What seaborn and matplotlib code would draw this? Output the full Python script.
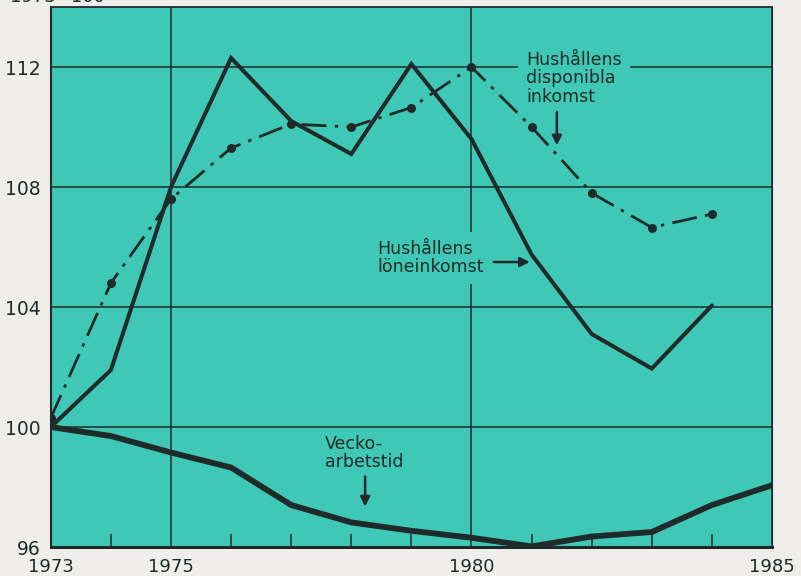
import pandas as pd
import matplotlib.pyplot as plt
import seaborn as sns

# Index 1973 = 100
years = list(range(1973, 1985))
loneinkomst = [100.0, 101.9, 108.0, 112.3, 110.2, 109.1, 112.1, 109.6, 105.75, 103.1, 101.95, 104.05]
disponibla = [100.3, 104.8, 107.6, 109.3, 110.1, 110.0, 110.65, 112.0, 110.0, 107.8, 106.65, 107.1]
vecko_years = list(range(1973, 1986))
veckoarbetstid = [100.0, 99.7, 99.15, 98.65, 97.4, 96.82, 96.54, 96.31, 96.02, 96.35, 96.5, 97.4, 98.06]

x_labels = [1973, 1975, 1980, 1985]
minor_years = [1974, 1976, 1977, 1978, 1979, 1981, 1982, 1983, 1984]
y_ticks = [96, 100, 104, 108, 112]

teal = "#40c8b6"
paper = "#efeeea"
ink = "#1f2b2b"

sns.set_theme(style="ticks")
plt.rcParams['font.family'] = ['DejaVu Sans']

income = pd.DataFrame({'year': years, 'lone': loneinkomst, 'disp': disponibla})
hours = pd.DataFrame({'year': vecko_years, 'vecko': veckoarbetstid})

fig = plt.figure(figsize=(8.01, 5.76), dpi=100, facecolor=paper)
ax = fig.add_axes([0.0634, 0.0503, 0.9004, 0.9375])
ax.set_facecolor(teal)

sns.lineplot(data=hours, x='year', y='vecko', ax=ax, color=ink, lw=4.2,
             solid_joinstyle='round', zorder=3)
sns.lineplot(data=income, x='year', y='lone', ax=ax, color=ink, lw=2.9,
             solid_joinstyle='miter', zorder=3)
sns.lineplot(data=income, x='year', y='disp', ax=ax, color=ink, lw=2.0,
             linestyle=(0, (9, 3, 1.2, 3)), marker='o', markersize=6.5,
             markeredgewidth=0, zorder=3)

ax.set_xlim(1973, 1985)
ax.set_ylim(96, 114)
ax.set_xticks(x_labels)
ax.set_xticks(minor_years, minor=True)
ax.set_yticks(y_ticks)
ax.set_xlabel('')
ax.set_ylabel('')

ax.set_axisbelow(True)
ax.grid(True, which='major', color=ink, lw=1.1)
ax.tick_params(axis='x', which='major', length=0, pad=8, labelsize=13, labelcolor=ink)
ax.tick_params(axis='x', which='minor', direction='in', length=9.5, width=1.1, color=ink)
ax.tick_params(axis='y', length=0, pad=7, labelsize=13.5, labelcolor=ink)

for side, w in [('left', 1.5), ('bottom', 2.2), ('top', 1.3), ('right', 0.8)]:
    ax.spines[side].set_color(ink)
    ax.spines[side].set_linewidth(w)

box = dict(boxstyle='square,pad=0.45', facecolor=teal, edgecolor='none')
txt = dict(color=ink, fontsize=12.5, ha='left', va='top', linespacing=1.05, zorder=1.5)

ax.text(1980.91, 112.55, 'Hushållens\ndisponibla\ninkomst', bbox=box, **txt)
ax.annotate('', xy=(1981.42, 109.39), xytext=(1981.42, 110.5),
            arrowprops=dict(arrowstyle='-|>', color=ink, lw=1.8, mutation_scale=14,
                            shrinkA=0, shrinkB=0))

ax.text(1978.43, 106.25, 'Hushållens\nlöneinkomst', bbox=box, **txt)
ax.annotate('', xy=(1980.97, 105.5), xytext=(1980.37, 105.5),
            arrowprops=dict(arrowstyle='-|>', color=ink, lw=1.8, mutation_scale=14,
                            shrinkA=0, shrinkB=0))

ax.text(1977.56, 99.75, 'Vecko-\narbetstid', **txt)
ax.annotate('', xy=(1978.23, 97.35), xytext=(1978.23, 98.35),
            arrowprops=dict(arrowstyle='-|>', color=ink, lw=1.8, mutation_scale=14,
                            shrinkA=0, shrinkB=0))

# the reference shows this heading cut off at the top edge
fig.text(10 / 801, 1 - 2.5 / 576, '1973=100', color=ink, fontsize=13,
         ha='left', va='baseline')

fig.savefig('out.png', dpi=100, facecolor=paper)
